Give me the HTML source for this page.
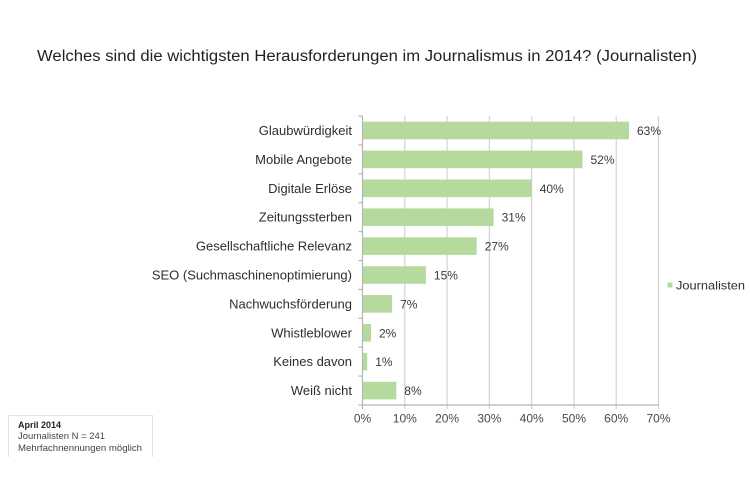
<!DOCTYPE html>
<html><head><meta charset="utf-8"><style>
html,body{margin:0;padding:0;background:#fff;}
svg{display:block;font-family:"Liberation Sans",Arial,sans-serif;}
</style></head><body>
<svg width="750" height="500" viewBox="0 0 750 500" xmlns="http://www.w3.org/2000/svg">
<rect width="750" height="500" fill="#fff"/>
<text x="37" y="61" font-size="15.5" fill="#222" textLength="660" lengthAdjust="spacingAndGlyphs">Welches sind die wichtigsten Herausforderungen im Journalismus in 2014? (Journalisten)</text>
<g stroke="#d4d4d4" stroke-width="1.2">
<line x1="404.8" y1="116" x2="404.8" y2="409"/>
<line x1="447.1" y1="116" x2="447.1" y2="409"/>
<line x1="489.4" y1="116" x2="489.4" y2="409"/>
<line x1="531.7" y1="116" x2="531.7" y2="409"/>
<line x1="574" y1="116" x2="574" y2="409"/>
<line x1="616.2" y1="116" x2="616.2" y2="409"/>
<line x1="658.5" y1="116" x2="658.5" y2="409"/>
</g>
<g stroke="#b5b5b5" stroke-width="1.2">
<line x1="362.5" y1="116" x2="362.5" y2="409"/>
<line x1="362.5" y1="405" x2="658.5" y2="405"/>
<line x1="358.5" y1="116" x2="362.5" y2="116"/>
<line x1="358.5" y1="144.9" x2="362.5" y2="144.9"/>
<line x1="358.5" y1="173.8" x2="362.5" y2="173.8"/>
<line x1="358.5" y1="202.7" x2="362.5" y2="202.7"/>
<line x1="358.5" y1="231.6" x2="362.5" y2="231.6"/>
<line x1="358.5" y1="260.5" x2="362.5" y2="260.5"/>
<line x1="358.5" y1="289.4" x2="362.5" y2="289.4"/>
<line x1="358.5" y1="318.3" x2="362.5" y2="318.3"/>
<line x1="358.5" y1="347.2" x2="362.5" y2="347.2"/>
<line x1="358.5" y1="376.1" x2="362.5" y2="376.1"/>
<line x1="358.5" y1="405" x2="362.5" y2="405"/>
</g>
<g fill="#b6da9e">
<rect x="363" y="121.7" width="266.0" height="17.6"/>
<rect x="363" y="150.6" width="219.5" height="17.6"/>
<rect x="363" y="179.5" width="168.7" height="17.6"/>
<rect x="363" y="208.4" width="130.6" height="17.6"/>
<rect x="363" y="237.3" width="113.7" height="17.6"/>
<rect x="363" y="266.2" width="62.9" height="17.6"/>
<rect x="363" y="295.1" width="29.1" height="17.6"/>
<rect x="363" y="324.0" width="8.0" height="17.6"/>
<rect x="363" y="352.9" width="4.2" height="17.6"/>
<rect x="363" y="381.8" width="33.3" height="17.6"/>
</g>
<g font-size="13" fill="#2e2e2e" text-anchor="end">
<text x="352" y="135">Glaubwürdigkeit</text>
<text x="352" y="163.9">Mobile Angebote</text>
<text x="352" y="192.8">Digitale Erlöse</text>
<text x="352" y="221.7">Zeitungssterben</text>
<text x="352" y="250.6">Gesellschaftliche Relevanz</text>
<text x="352" y="279.5">SEO (Suchmaschinenoptimierung)</text>
<text x="352" y="308.4">Nachwuchsförderung</text>
<text x="352" y="337.3">Whistleblower</text>
<text x="352" y="366.2">Keines davon</text>
<text x="352" y="395.1">Weiß nicht</text>
</g>
<g font-size="12" fill="#3a3a3a">
<text x="637" y="135">63%</text>
<text x="590.5" y="163.9">52%</text>
<text x="539.7" y="192.8">40%</text>
<text x="501.6" y="221.7">31%</text>
<text x="484.7" y="250.6">27%</text>
<text x="433.9" y="279.5">15%</text>
<text x="400.1" y="308.4">7%</text>
<text x="379" y="337.3">2%</text>
<text x="375.2" y="366.2">1%</text>
<text x="404.3" y="395.1">8%</text>
</g>
<g font-size="12" fill="#4a4a4a" text-anchor="middle">
<text x="362.5" y="422.5">0%</text>
<text x="404.8" y="422.5">10%</text>
<text x="447.1" y="422.5">20%</text>
<text x="489.4" y="422.5">30%</text>
<text x="531.7" y="422.5">40%</text>
<text x="574" y="422.5">50%</text>
<text x="616.2" y="422.5">60%</text>
<text x="658.5" y="422.5">70%</text>
</g>
<rect x="667.5" y="282.5" width="5" height="5" fill="#b6da9e"/>
<text x="676" y="289.5" font-size="12" fill="#2e2e2e" textLength="69" lengthAdjust="spacingAndGlyphs">Journalisten</text>
<path d="M8.5 457 V415.5 H152.5 V457" fill="none" stroke="#e2e2e2" stroke-width="1"/>
<text x="18" y="428" font-size="9" font-weight="bold" fill="#222">April 2014</text>
<text x="18" y="439" font-size="9" fill="#444" textLength="87" lengthAdjust="spacingAndGlyphs">Journalisten N = 241</text>
<text x="18" y="451" font-size="9" fill="#444" textLength="124" lengthAdjust="spacingAndGlyphs">Mehrfachnennungen möglich</text>
</svg>
</body></html>
